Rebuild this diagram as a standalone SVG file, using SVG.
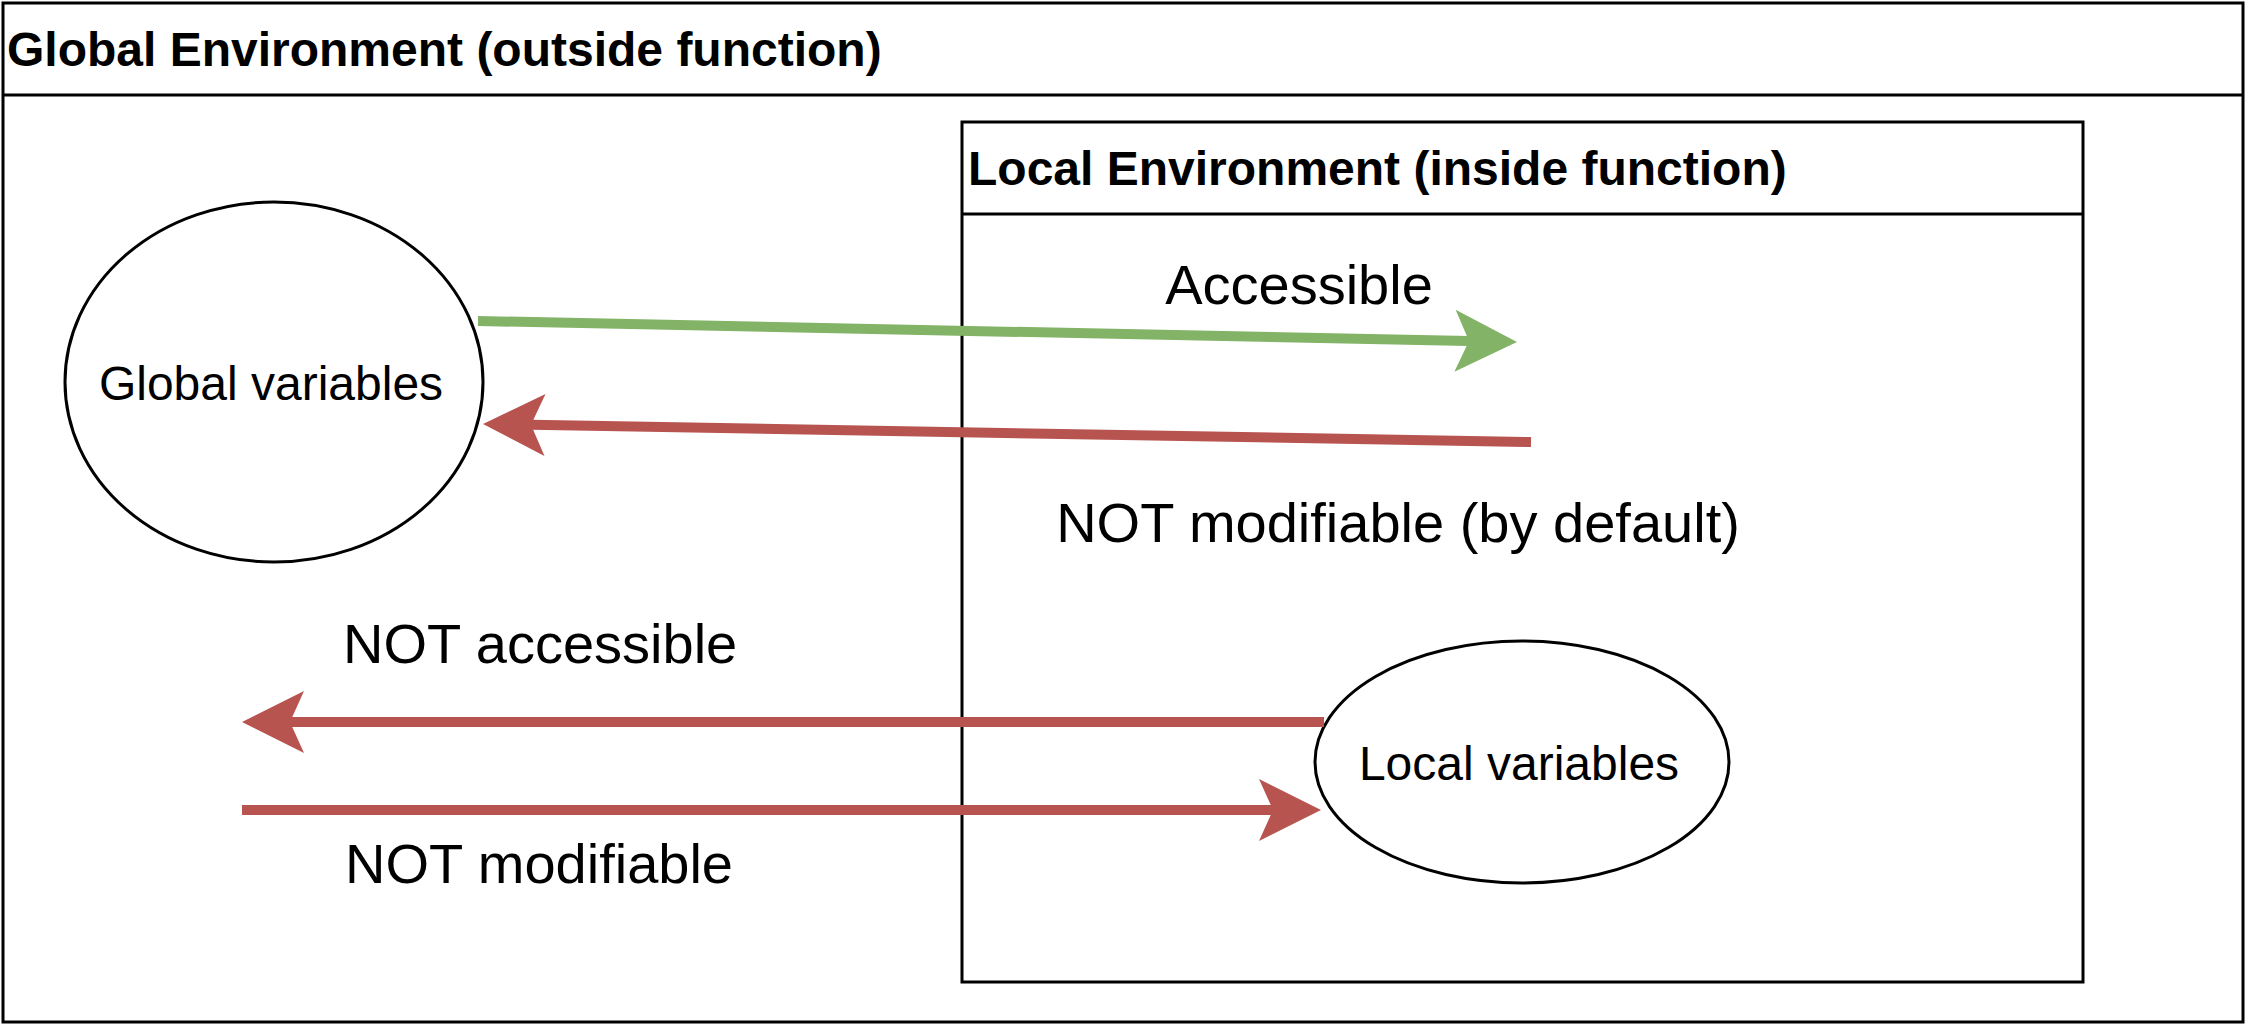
<svg xmlns="http://www.w3.org/2000/svg" width="2248" height="1028" viewBox="0 0 2248 1028">
<style>
.box{fill:#ffffff;stroke:#000000;stroke-width:3}
.ttl{font-family:"Liberation Sans",Arial,Helvetica,sans-serif;font-weight:bold;font-size:48px;fill:#000}
.lbl{font-family:"Liberation Sans",Arial,Helvetica,sans-serif;font-size:48px;fill:#000}
.big{font-family:"Liberation Sans",Arial,Helvetica,sans-serif;font-size:56px;fill:#000}
.g{stroke:#82b366;stroke-width:10;fill:none}
.r{stroke:#b85450;stroke-width:10;fill:none}
</style>
<defs>
<marker id="ag" markerUnits="userSpaceOnUse" markerWidth="64" markerHeight="64" refX="14" refY="32" orient="auto" overflow="visible">
<path d="M62,32 L0,1 L14,32 L0,63 Z" fill="#82b366"/>
</marker>
<marker id="ar" markerUnits="userSpaceOnUse" markerWidth="64" markerHeight="64" refX="14" refY="32" orient="auto" overflow="visible">
<path d="M62,32 L0,1 L14,32 L0,63 Z" fill="#b85450"/>
</marker>
</defs>
<rect width="2248" height="1028" fill="#ffffff"/>
<g id="global-env">
<rect class="box" x="3" y="3" width="2240" height="1019"/>
<line x1="3" y1="95" x2="2243" y2="95" stroke="#000" stroke-width="3"/>
<text class="ttl" x="7" y="66">Global Environment (outside function)</text>
</g>
<g id="local-env">
<rect class="box" x="962" y="122" width="1121" height="860"/>
<line x1="962" y1="214" x2="2083" y2="214" stroke="#000" stroke-width="3"/>
<text class="ttl" x="968" y="185">Local Environment (inside function)</text>
</g>
<g id="global-vars">
<ellipse class="box" cx="274" cy="382" rx="209" ry="180"/>
<text class="lbl" x="271" y="400" text-anchor="middle">Global variables</text>
</g>
<g id="local-vars">
<ellipse class="box" cx="1522" cy="762" rx="207" ry="121"/>
<text class="lbl" x="1519" y="780" text-anchor="middle">Local variables</text>
</g>
<g id="connectors">
<path class="g" d="M478,321 L1469,341" marker-end="url(#ag)"/>
<path class="r" d="M1531,442 L531,424.8" marker-end="url(#ar)"/>
<path class="r" d="M1324,722 L290,722" marker-end="url(#ar)"/>
<path class="r" d="M242,810 L1273,810" marker-end="url(#ar)"/>
</g>
<g id="labels">
<text class="big" x="1299" y="304" text-anchor="middle">Accessible</text>
<text class="big" x="1398" y="542" text-anchor="middle">NOT modifiable (by default)</text>
<text class="big" x="343" y="663">NOT accessible</text>
<text class="big" x="345" y="883">NOT modifiable</text>
</g>
</svg>
